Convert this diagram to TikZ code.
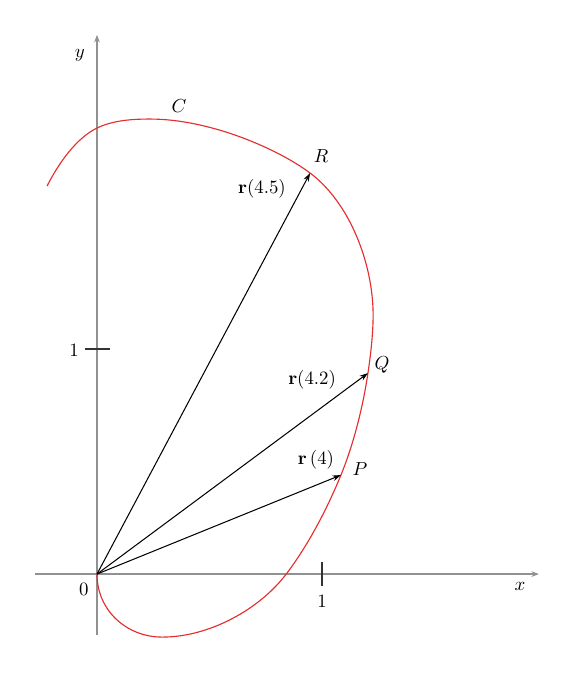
\documentclass[tikz,border=0pt]{standalone}
\usetikzlibrary{arrows.meta}
\definecolor{axisgray}{RGB}{145,145,145}
\definecolor{curvered}{RGB}{228,45,45}
\tikzset{
  axis/.style={draw=axisgray, line width=0.7pt, -{Stealth[length=4pt,width=3pt]}},
  tick/.style={draw=black!80, line width=0.6pt},
  vec/.style={draw=black, line width=0.55pt, -{Stealth[length=4.5pt,width=3pt]}},
  curve/.style={draw=curvered, line width=0.6pt},
  lab/.style={inner sep=1pt, font=\normalsize},
}
\begin{document}
\begin{tikzpicture}[x=4.2cm,y=4.2cm]
\useasboundingbox (-0.431,-0.444) rectangle (2.111,2.551);
% axes
\coordinate (xs) at (-0.276,0);
\coordinate (xe) at (1.964,0);
\coordinate (ys) at (0,-0.271);
\coordinate (ye) at (0,2.396);
\draw[axis] (xs) -- (xe);
\draw[axis] (ys) -- (ye);
% ticks
\coordinate (tx1) at (1,0.053);
\coordinate (tx2) at (1,-0.053);
\coordinate (ty1) at (-0.053,1);
\coordinate (ty2) at (0.058,1);
\draw[tick] (tx1) -- (tx2);
\draw[tick] (ty1) -- (ty2);
% points
\coordinate (O) at (0,0);
\coordinate (P) at (1.084,0.44);
\coordinate (Q) at (1.204,0.893);
\coordinate (R) at (0.947,1.782);
% curve
\draw[curve] (O)
  .. controls (0,-0.16) and (0.13,-0.28) .. (0.29,-0.28)
  .. controls (0.5,-0.28) and (0.724,-0.156) .. (0.844,0.004)
  .. controls (0.946,0.140) and (1.027,0.301) .. (P)
  .. controls (1.141,0.579) and (1.182,0.745) .. (Q)
  .. controls (1.216,0.972) and (1.227,1.07) .. (1.227,1.15)
  .. controls (1.227,1.38) and (1.123,1.65) .. (R)
  .. controls (0.803,1.890) and (0.5,2.022) .. (0.236,2.022)
  .. controls (0.16,2.022) and (0.072,2.017) .. (0,1.982)
  .. controls (-0.09,1.938) and (-0.168,1.831) .. (-0.222,1.724);
\draw[vec] (O) -- (P);
\draw[vec] (O) -- (Q);
\draw[vec] (O) -- (R);
% labels
\node[lab] (ylab) at (-0.076,2.307) {$y$};
\node[lab] (xlab) at (1.88,-0.053) {$x$};
\node[lab] (zero) at (-0.058,-0.067) {$0$};
\node[lab] (onex) at (1,-0.12) {$1$};
\node[lab] (oney) at (-0.102,0.996) {$1$};
\node[lab] (Clab) at (0.364,2.08) {$C$};
\node[lab] (Rlab) at (0.996,1.858) {$R$};
\node[lab] (Qlab) at (1.267,0.929) {$Q$};
\node[lab] (Plab) at (1.169,0.467) {$P$};
\node[lab] (r45) at (0.733,1.711) {$\mathbf{r}(4.5)$};
\node[lab] (r42) at (0.956,0.862) {$\mathbf{r}(4.2)$};
\node[lab] (r4) at (0.973,0.507) {$\mathbf{r}\,(4)$};
\end{tikzpicture}
\end{document}
